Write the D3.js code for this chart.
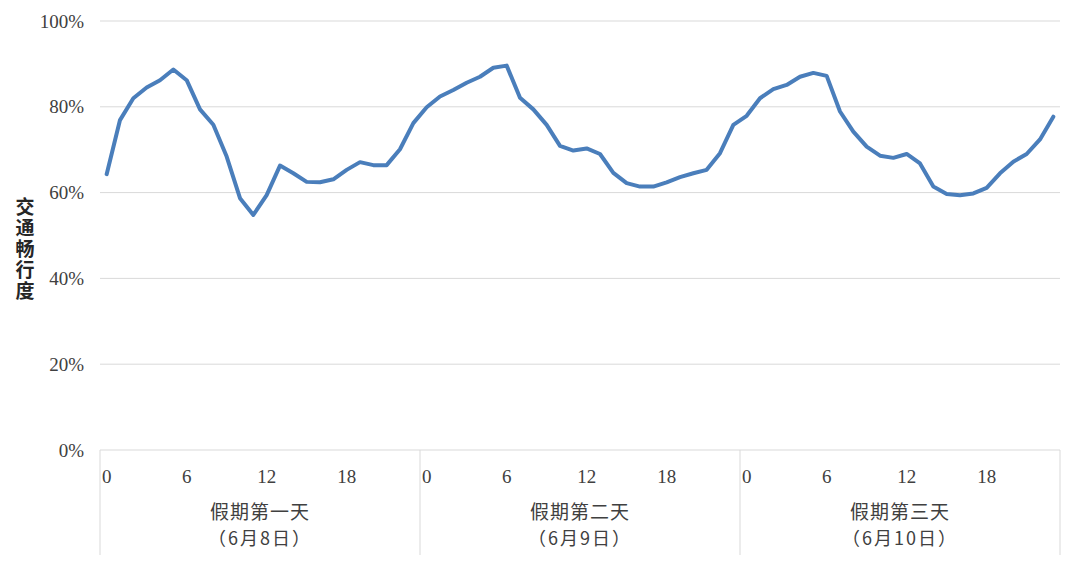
<!DOCTYPE html>
<html><head><meta charset="utf-8">
<script src="https://cdn.jsdelivr.net/npm/d3@7"></script>
<style>
body{margin:0;background:#fff;}
svg{display:block;}
</style></head>
<body>
<svg id="chart" width="1080" height="565"></svg>
<script>
const days = ["假期第一天", "假期第二天", "假期第三天"];
const dates = ["（6月8日）", "（6月9日）", "（6月10日）"];
const hours = d3.range(24);
const hourTicks = [0, 6, 12, 18];
const yTicks = [0, 0.2, 0.4, 0.6, 0.8, 1.0];
const yTitle = "交通畅行度";
const day1 = [64.3,76.9,82.0,84.5,86.2,88.7,86.2,79.4,75.8,68.4,58.7,54.8,59.4,66.3,64.5,62.5,62.4,63.1,65.3,67.1,66.4,66.4,70.1,76.2];
const day2 = [79.9,82.4,83.9,85.6,87.0,89.1,89.6,82.1,79.4,75.8,70.9,69.8,70.3,69.0,64.6,62.2,61.4,61.4,62.4,63.6,64.5,65.3,69.2,75.8];
const day3 = [77.9,82.0,84.1,85.1,87.0,87.9,87.2,78.9,74.2,70.7,68.6,68.1,69.0,66.8,61.4,59.7,59.4,59.8,61.1,64.5,67.2,69.0,72.4,77.7];
const series = [day1, day2, day3];

(function(){
const svg = d3.select("#chart");
const mLeft = 100, mRight = 1060, mTop = 21, mBottom = 450;

const dayScale = d3.scaleBand().domain(days).range([mLeft, mRight]).padding(0);
const hourScale = d3.scaleBand().domain(hours).range([0, dayScale.bandwidth()]).padding(0);
const y = d3.scaleLinear().domain([0, 1]).range([mBottom, mTop]);

const points = [];
series.forEach((vals, di) => vals.forEach((v, h) => points.push({x: dayScale(days[di]) + hourScale(h) + hourScale.bandwidth()/2, v: v/100})));

// gridlines
svg.append("g").selectAll("line").data(yTicks).join("line")
  .attr("x1", mLeft).attr("x2", mRight)
  .attr("y1", d => y(d)).attr("y2", d => y(d))
  .attr("stroke", "#d9d9d9").attr("stroke-width", 1);

// y labels
svg.append("g").selectAll("text").data(yTicks).join("text")
  .attr("x", 84).attr("y", d => y(d)).attr("dy", "0.35em")
  .attr("text-anchor", "end")
  .attr("font-family", "Liberation Serif, Times New Roman, serif")
  .attr("font-size", 19).attr("fill", "#404040")
  .text(d3.format(".0%"));

// y title vertical (single text, vertical writing mode)
svg.append("text")
  .attr("x", 25).attr("y", 197)
  .attr("writing-mode", "vertical-rl")
  .style("writing-mode", "vertical-rl")
  .attr("letter-spacing", 2)
  .attr("font-family", "Noto Sans CJK SC, sans-serif")
  .attr("font-size", 19).attr("font-weight", "bold").attr("fill", "#262626")
  .attr("text-anchor", "start")
  .text(yTitle);

// category separators
const seps = days.map(d => dayScale(d)).concat([mRight]);
svg.append("g").selectAll("line").data(seps).join("line")
  .attr("x1", d => d).attr("x2", d => d)
  .attr("y1", mBottom).attr("y2", 555)
  .attr("stroke", "#d9d9d9").attr("stroke-width", 1);

// hour tick labels
days.forEach(d => {
  svg.append("g").selectAll("text").data(hourTicks).join("text")
    .attr("x", h => dayScale(d) + hourScale(h) + hourScale.bandwidth()/2)
    .attr("y", 476).attr("dy", "0.35em")
    .attr("text-anchor", "middle")
    .attr("font-family", "Liberation Serif, Times New Roman, serif")
    .attr("font-size", 19).attr("fill", "#404040")
    .text(h => h);
});

// day labels
svg.append("g").selectAll("text").data(days).join("text")
  .attr("x", d => dayScale(d) + dayScale.bandwidth()/2).attr("y", 512).attr("dy", "0.35em")
  .attr("text-anchor", "middle")
  .attr("font-family", "Noto Sans CJK SC, sans-serif")
  .attr("letter-spacing", 1)
  .attr("font-size", 19).attr("fill", "#404040")
  .text(d => d);
svg.append("g").selectAll("text").data(dates).join("text")
  .attr("x", (d, i) => dayScale(days[i]) + dayScale.bandwidth()/2).attr("y", 539).attr("dy", "0.35em")
  .attr("text-anchor", "middle")
  .attr("font-family", "Noto Sans CJK SC, sans-serif")
  .attr("letter-spacing", 2)
  .attr("font-size", 18).attr("fill", "#404040")
  .text(d => d);

// line
svg.append("path").datum(points)
  .attr("fill", "none").attr("stroke", "#4a7ebb").attr("stroke-width", 4)
  .attr("stroke-linejoin", "round").attr("stroke-linecap", "round")
  .attr("d", d3.line().x(d => d.x).y(d => y(d.v)));
})();
</script>
</body></html>
